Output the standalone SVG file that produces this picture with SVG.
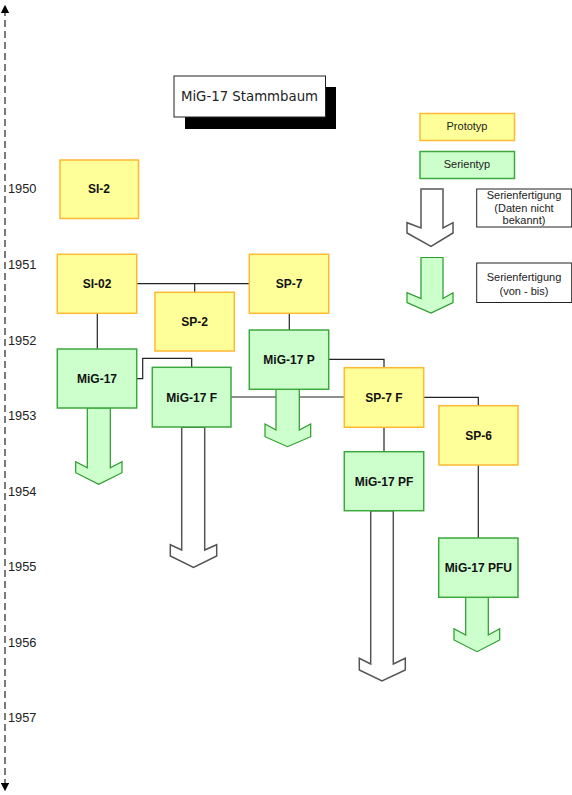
<svg xmlns="http://www.w3.org/2000/svg" width="572" height="795" viewBox="0 0 572 795">
<style>
.proto{fill:#FFFF99;stroke:#FFB833;stroke-width:1.5}
.serie{fill:#CCFFCC;stroke:#3DA83D;stroke-width:1.5}
.lbl{font-family:"Liberation Sans",Arial,sans-serif;font-size:12px;font-weight:bold;fill:#111;text-anchor:middle}
.yr{font-family:"Liberation Sans",Arial,sans-serif;font-size:12.8px;fill:#222}
.leg{font-family:"Liberation Sans",Arial,sans-serif;font-size:11px;fill:#222;text-anchor:middle}
.con{fill:none;stroke:#222;stroke-width:1.2}
.garrow{fill:#CCFFCC;stroke:#2A9A2A;stroke-width:1.2}
.warrow{fill:#FFFFFF;stroke:#555;stroke-width:1.5}
.box{fill:#FFFFFF;stroke:#222;stroke-width:1}
</style>
<defs>
<marker id="tip" viewBox="0 0 10 10" refX="5" refY="5" markerWidth="7" markerHeight="7" orient="auto-start-reverse">
<path d="M0,0 L10,5 L0,10 z" fill="#000"/>
</marker>
</defs>
<rect x="0" y="0" width="572" height="795" fill="#FFFFFF"/>
<g id="timeline">
<line x1="5" y1="9" x2="5" y2="787" stroke="#222" stroke-width="1.2" stroke-dasharray="7,4" marker-start="url(#tip)" marker-end="url(#tip)"/>
<text class="yr" x="8" y="193">1950</text>
<text class="yr" x="8" y="269">1951</text>
<text class="yr" x="8" y="344.5">1952</text>
<text class="yr" x="8" y="420">1953</text>
<text class="yr" x="8" y="495.5">1954</text>
<text class="yr" x="8" y="571">1955</text>
<text class="yr" x="8" y="646.5">1956</text>
<text class="yr" x="8" y="722">1957</text>
</g>
<g id="title">
<rect x="185" y="87" width="151" height="42" fill="#000"/>
<rect x="174" y="76" width="151.5" height="41" fill="#FFFFFF" stroke="#222" stroke-width="1"/>
<text x="249.5" y="101" font-family="DejaVu Sans,Verdana,sans-serif" font-size="13.3" fill="#222" text-anchor="middle">MiG-17 Stammbaum</text>
</g>
<g id="legend">
<rect class="proto" x="420" y="113.5" width="94.5" height="27"/>
<text class="leg" x="467" y="130">Prototyp</text>
<rect class="serie" x="420" y="151.5" width="94.5" height="27"/>
<text class="leg" x="467" y="168">Serientyp</text>
<polygon class="warrow" points="421,189 443,189 443,228 453,222.7 453,233 431,246.5 407,233 407,222.7 421,228"/>
<rect class="box" x="476.7" y="189" width="95" height="38"/>
<text class="leg" x="524" y="199">Serienfertigung</text>
<text class="leg" x="524" y="211.5">(Daten nicht</text>
<text class="leg" x="524" y="224">bekannt)</text>
<polygon class="garrow" points="421,257.5 443,257.5 443,298.5 453,292.7 453,302.5 431,313 407,302.5 407,292.7 421,298.5"/>
<rect class="box" x="476.7" y="263" width="95" height="39.5"/>
<text class="leg" x="524" y="281">Serienfertigung</text>
<text class="leg" x="524" y="295">(von - bis)</text>
</g>
<g id="connectors">
<line class="con" x1="136.7" y1="283.7" x2="249.3" y2="283.7"/>
<line class="con" x1="194.7" y1="283.7" x2="194.7" y2="292.3"/>
<line class="con" x1="97.3" y1="313.3" x2="97.3" y2="349"/>
<polyline class="con" points="136.7,378.7 142.7,378.7 142.7,358.3 191.7,358.3 191.7,367.3"/>
<line class="con" x1="289.3" y1="313.3" x2="289.3" y2="330"/>
<line class="con" x1="231" y1="397" x2="344.3" y2="397"/>
<polyline class="con" points="328.7,359.3 384,359.3 384,367.7"/>
<polyline class="con" points="423.7,397.3 478.3,397.3 478.3,405.7"/>
<line class="con" x1="384" y1="427.3" x2="384" y2="451.7"/>
<line class="con" x1="478.3" y1="465" x2="478.3" y2="538"/>
</g>
<g id="arrows">
<polygon class="garrow" points="87.3,408 110.3,408 110.3,467.7 122,461.7 122,472.7 98.7,484.3 75.7,472.7 75.7,461.7 87.3,467.7"/>
<polygon class="warrow" points="181.7,427.3 204.7,427.3 204.7,550 216.7,544.7 216.7,556 193.5,567.3 170.3,556 170.3,544.7 181.7,550"/>
<polygon class="garrow" points="276,389.3 299.3,389.3 299.3,430 310.7,424 310.7,436.7 287.5,446.7 265,436.7 265,424 276,430"/>
<polygon class="warrow" points="370.7,510.7 393.3,510.7 393.3,664 405.3,658.3 405.3,670 382,681 359.3,670 359.3,658.3 370.7,664"/>
<polygon class="garrow" points="465.7,597.3 488.3,597.3 488.3,635 499.7,628.7 499.7,640 477,651.7 454,640 454,628.7 465.7,635"/>
</g>
<g id="SI-2"><rect class="proto" x="60" y="160" width="78.5" height="58.5"/><text class="lbl" x="99" y="193.3">SI-2</text></g>
<g id="SI-02"><rect class="proto" x="57.3" y="254.3" width="79.4" height="59"/><text class="lbl" x="97" y="288">SI-02</text></g>
<g id="SP-2"><rect class="proto" x="155" y="292.3" width="79.3" height="58.7"/><text class="lbl" x="194.7" y="326">SP-2</text></g>
<g id="SP-7"><rect class="proto" x="249.3" y="254.3" width="79.4" height="59"/><text class="lbl" x="289" y="288">SP-7</text></g>
<g id="MiG-17"><rect class="serie" x="57.3" y="349" width="79.4" height="59"/><text class="lbl" x="97" y="382.8">MiG-17</text></g>
<g id="MiG-17F"><rect class="serie" x="152.3" y="367.3" width="78.7" height="59.7"/><text class="lbl" x="191.7" y="401.5">MiG-17 F</text></g>
<g id="MiG-17P"><rect class="serie" x="249.3" y="330" width="79.4" height="59.3"/><text class="lbl" x="289" y="364">MiG-17 P</text></g>
<g id="SP-7F"><rect class="proto" x="344.3" y="367.7" width="79.4" height="59.6"/><text class="lbl" x="384" y="401.8">SP-7 F</text></g>
<g id="SP-6"><rect class="proto" x="439" y="405.7" width="79" height="59.3"/><text class="lbl" x="478.5" y="439.6">SP-6</text></g>
<g id="MiG-17PF"><rect class="serie" x="344.3" y="451.7" width="79.4" height="59"/><text class="lbl" x="384" y="485.5">MiG-17 PF</text></g>
<g id="MiG-17PFU"><rect class="serie" x="438.7" y="538" width="79.3" height="59.3"/><text class="lbl" x="478.3" y="572">MiG-17 PFU</text></g>
</svg>
